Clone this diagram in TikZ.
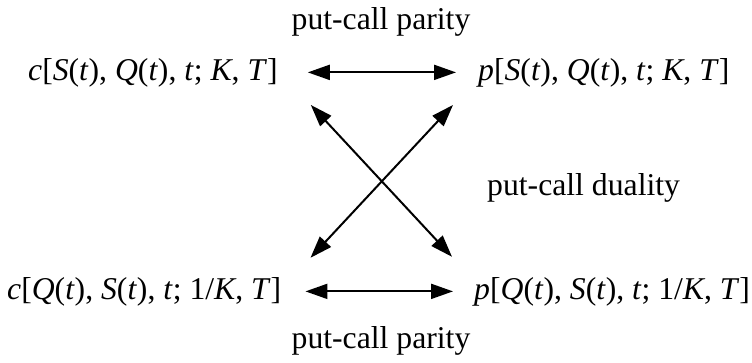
\documentclass[tikz,border=0pt]{standalone}
\usepackage{fontspec}
\setmainfont{Liberation Serif}
\usetikzlibrary{arrows.meta,positioning}
\newcommand{\vr}[1]{\textit{#1}}
\tikzset{
  expr/.style={font=\fontsize{31.7}{37}\selectfont, inner sep=0pt, anchor=base west},
  caption/.style={font=\fontsize{31.7}{37}\selectfont, inner sep=0pt, anchor=base},
  link/.style={{Triangle[length=22pt,width=15pt]}-{Triangle[length=22pt,width=15pt]},
               line width=2pt, black},
}

\begin{document}
\begin{tikzpicture}[x=1pt,y=-1pt]
  \useasboundingbox (0,0) rectangle (752,362);

  \node[caption] (parTop) at (381,29) {put-call parity};
  \node[caption] (parBot) at (381,348) {put-call parity};
  \node[caption, anchor=base west] (dual) at (487,195) {put-call duality};

  \node[expr] (cST) at (28,80)
    {\vr{c}[\vr{S}(\vr{t}), \vr{Q}(\vr{t}), \vr{t}; \vr{K}, \vr{T}]};
  \node[expr] (pST) at (478,80)
    {\vr{p}[\vr{S}(\vr{t}), \vr{Q}(\vr{t}), \vr{t}; \vr{K}, \vr{T}]};
  \node[expr] (cQS) at (7,299)
    {\vr{c}[\vr{Q}(\vr{t}), \vr{S}(\vr{t}), \vr{t}; 1/\vr{K}, \vr{T}]};
  \node[expr] (pQS) at (474,299)
    {\vr{p}[\vr{Q}(\vr{t}), \vr{S}(\vr{t}), \vr{t}; 1/\vr{K}, \vr{T}]};

  % parity: horizontal
  \draw[link, shorten <=30pt, shorten >=22pt] (cST.east) -- (pST.west);
  \draw[link, shorten <=24pt, shorten >=21pt] (cQS.east) -- (pQS.west);

  % duality: the cross
  \draw[link] ([shift={(33,18)}]cST.south east) -- ([shift={(-22,-20)}]pQS.north west);
  \draw[link] ([shift={(29,-19)}]cQS.north east) -- ([shift={(-25,18)}]pST.south west);

\end{tikzpicture}
\end{document}
